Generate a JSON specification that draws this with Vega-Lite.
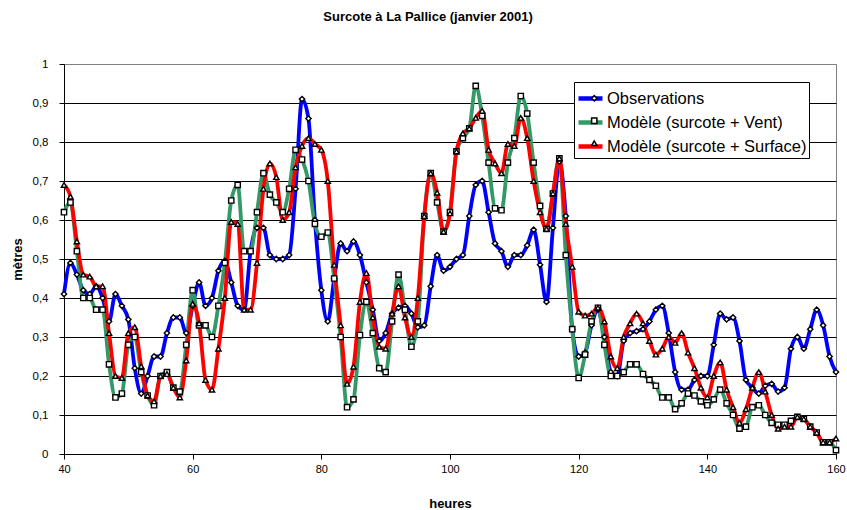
{
  "$schema": "https://vega.github.io/schema/vega-lite/v6.json",
  "width": 772,
  "height": 390,
  "autosize": {"type": "none"},
  "padding": {"left": 64, "top": 64, "right": 11, "bottom": 56},
  "background": "white",
  "title": {"text": "Surcote à La Pallice (janvier 2001)", "font": "Liberation Sans", "fontSize": 13, "fontWeight": "bold", "color": "black", "anchor": "middle", "frame": "bounds", "offset": 34},
  "config": {"view": {"stroke": "#808080", "strokeWidth": 1}, "font": "Liberation Sans"},
  "data": {"values": [
{"h":40,"s":"Observations","v":0.41},{"h":41,"s":"Observations","v":0.49},{"h":42,"s":"Observations","v":0.46},{"h":43,"s":"Observations","v":0.42},{"h":44,"s":"Observations","v":0.41},{"h":45,"s":"Observations","v":0.43},{"h":46,"s":"Observations","v":0.40},{"h":47,"s":"Observations","v":0.34},{"h":48,"s":"Observations","v":0.41},{"h":49,"s":"Observations","v":0.38},
{"h":50,"s":"Observations","v":0.345},{"h":51,"s":"Observations","v":0.22},{"h":52,"s":"Observations","v":0.155},{"h":53,"s":"Observations","v":0.20},{"h":54,"s":"Observations","v":0.25},{"h":55,"s":"Observations","v":0.25},{"h":56,"s":"Observations","v":0.31},{"h":57,"s":"Observations","v":0.35},{"h":58,"s":"Observations","v":0.35},{"h":59,"s":"Observations","v":0.31},
{"h":60,"s":"Observations","v":0.38},{"h":61,"s":"Observations","v":0.44},{"h":62,"s":"Observations","v":0.38},{"h":63,"s":"Observations","v":0.40},{"h":64,"s":"Observations","v":0.47},{"h":65,"s":"Observations","v":0.495},{"h":66,"s":"Observations","v":0.44},{"h":67,"s":"Observations","v":0.38},{"h":68,"s":"Observations","v":0.37},{"h":69,"s":"Observations","v":0.52},
{"h":70,"s":"Observations","v":0.58},{"h":71,"s":"Observations","v":0.58},{"h":72,"s":"Observations","v":0.51},{"h":73,"s":"Observations","v":0.50},{"h":74,"s":"Observations","v":0.50},{"h":75,"s":"Observations","v":0.51},{"h":76,"s":"Observations","v":0.68},{"h":77,"s":"Observations","v":0.91},{"h":78,"s":"Observations","v":0.86},{"h":79,"s":"Observations","v":0.60},
{"h":80,"s":"Observations","v":0.42},{"h":81,"s":"Observations","v":0.34},{"h":82,"s":"Observations","v":0.45},{"h":83,"s":"Observations","v":0.54},{"h":84,"s":"Observations","v":0.52},{"h":85,"s":"Observations","v":0.545},{"h":86,"s":"Observations","v":0.51},{"h":87,"s":"Observations","v":0.44},{"h":88,"s":"Observations","v":0.37},{"h":89,"s":"Observations","v":0.29},
{"h":90,"s":"Observations","v":0.31},{"h":91,"s":"Observations","v":0.36},{"h":92,"s":"Observations","v":0.375},{"h":93,"s":"Observations","v":0.38},{"h":94,"s":"Observations","v":0.36},{"h":95,"s":"Observations","v":0.325},{"h":96,"s":"Observations","v":0.33},{"h":97,"s":"Observations","v":0.43},{"h":98,"s":"Observations","v":0.51},{"h":99,"s":"Observations","v":0.47},
{"h":100,"s":"Observations","v":0.48},{"h":101,"s":"Observations","v":0.50},{"h":102,"s":"Observations","v":0.51},{"h":103,"s":"Observations","v":0.61},{"h":104,"s":"Observations","v":0.69},{"h":105,"s":"Observations","v":0.70},{"h":106,"s":"Observations","v":0.62},{"h":107,"s":"Observations","v":0.54},{"h":108,"s":"Observations","v":0.52},{"h":109,"s":"Observations","v":0.48},
{"h":110,"s":"Observations","v":0.51},{"h":111,"s":"Observations","v":0.51},{"h":112,"s":"Observations","v":0.535},{"h":113,"s":"Observations","v":0.575},{"h":114,"s":"Observations","v":0.485},{"h":115,"s":"Observations","v":0.39},{"h":116,"s":"Observations","v":0.58},{"h":117,"s":"Observations","v":0.75},{"h":118,"s":"Observations","v":0.61},{"h":119,"s":"Observations","v":0.32},
{"h":120,"s":"Observations","v":0.25},{"h":121,"s":"Observations","v":0.26},{"h":122,"s":"Observations","v":0.33},{"h":123,"s":"Observations","v":0.37},{"h":124,"s":"Observations","v":0.30},{"h":125,"s":"Observations","v":0.21},{"h":126,"s":"Observations","v":0.20},{"h":127,"s":"Observations","v":0.29},{"h":128,"s":"Observations","v":0.31},{"h":129,"s":"Observations","v":0.315},
{"h":130,"s":"Observations","v":0.32},{"h":131,"s":"Observations","v":0.34},{"h":132,"s":"Observations","v":0.37},{"h":133,"s":"Observations","v":0.38},{"h":134,"s":"Observations","v":0.31},{"h":135,"s":"Observations","v":0.21},{"h":136,"s":"Observations","v":0.165},{"h":137,"s":"Observations","v":0.165},{"h":138,"s":"Observations","v":0.19},{"h":139,"s":"Observations","v":0.20},
{"h":140,"s":"Observations","v":0.20},{"h":141,"s":"Observations","v":0.28},{"h":142,"s":"Observations","v":0.36},{"h":143,"s":"Observations","v":0.345},{"h":144,"s":"Observations","v":0.35},{"h":145,"s":"Observations","v":0.29},{"h":146,"s":"Observations","v":0.19},{"h":147,"s":"Observations","v":0.17},{"h":148,"s":"Observations","v":0.155},{"h":149,"s":"Observations","v":0.175},
{"h":150,"s":"Observations","v":0.18},{"h":151,"s":"Observations","v":0.16},{"h":152,"s":"Observations","v":0.17},{"h":153,"s":"Observations","v":0.27},{"h":154,"s":"Observations","v":0.30},{"h":155,"s":"Observations","v":0.27},{"h":156,"s":"Observations","v":0.32},{"h":157,"s":"Observations","v":0.37},{"h":158,"s":"Observations","v":0.33},{"h":159,"s":"Observations","v":0.25},
{"h":160,"s":"Observations","v":0.21},
{"h":40,"s":"Modèle (surcote + Vent)","v":0.62},{"h":41,"s":"Modèle (surcote + Vent)","v":0.645},{"h":42,"s":"Modèle (surcote + Vent)","v":0.52},{"h":43,"s":"Modèle (surcote + Vent)","v":0.40},{"h":44,"s":"Modèle (surcote + Vent)","v":0.40},{"h":45,"s":"Modèle (surcote + Vent)","v":0.37},{"h":46,"s":"Modèle (surcote + Vent)","v":0.37},{"h":47,"s":"Modèle (surcote + Vent)","v":0.23},{"h":48,"s":"Modèle (surcote + Vent)","v":0.145},{"h":49,"s":"Modèle (surcote + Vent)","v":0.155},
{"h":50,"s":"Modèle (surcote + Vent)","v":0.28},{"h":51,"s":"Modèle (surcote + Vent)","v":0.30},{"h":52,"s":"Modèle (surcote + Vent)","v":0.21},{"h":53,"s":"Modèle (surcote + Vent)","v":0.15},{"h":54,"s":"Modèle (surcote + Vent)","v":0.125},{"h":55,"s":"Modèle (surcote + Vent)","v":0.20},{"h":56,"s":"Modèle (surcote + Vent)","v":0.21},{"h":57,"s":"Modèle (surcote + Vent)","v":0.17},{"h":58,"s":"Modèle (surcote + Vent)","v":0.16},{"h":59,"s":"Modèle (surcote + Vent)","v":0.28},
{"h":60,"s":"Modèle (surcote + Vent)","v":0.42},{"h":61,"s":"Modèle (surcote + Vent)","v":0.33},{"h":62,"s":"Modèle (surcote + Vent)","v":0.33},{"h":63,"s":"Modèle (surcote + Vent)","v":0.30},{"h":64,"s":"Modèle (surcote + Vent)","v":0.38},{"h":65,"s":"Modèle (surcote + Vent)","v":0.49},{"h":66,"s":"Modèle (surcote + Vent)","v":0.65},{"h":67,"s":"Modèle (surcote + Vent)","v":0.69},{"h":68,"s":"Modèle (surcote + Vent)","v":0.52},{"h":69,"s":"Modèle (surcote + Vent)","v":0.52},
{"h":70,"s":"Modèle (surcote + Vent)","v":0.62},{"h":71,"s":"Modèle (surcote + Vent)","v":0.72},{"h":72,"s":"Modèle (surcote + Vent)","v":0.665},{"h":73,"s":"Modèle (surcote + Vent)","v":0.645},{"h":74,"s":"Modèle (surcote + Vent)","v":0.62},{"h":75,"s":"Modèle (surcote + Vent)","v":0.68},{"h":76,"s":"Modèle (surcote + Vent)","v":0.78},{"h":77,"s":"Modèle (surcote + Vent)","v":0.755},{"h":78,"s":"Modèle (surcote + Vent)","v":0.70},{"h":79,"s":"Modèle (surcote + Vent)","v":0.59},
{"h":80,"s":"Modèle (surcote + Vent)","v":0.557},{"h":81,"s":"Modèle (surcote + Vent)","v":0.568},{"h":82,"s":"Modèle (surcote + Vent)","v":0.45},{"h":83,"s":"Modèle (surcote + Vent)","v":0.30},{"h":84,"s":"Modèle (surcote + Vent)","v":0.12},{"h":85,"s":"Modèle (surcote + Vent)","v":0.14},{"h":86,"s":"Modèle (surcote + Vent)","v":0.305},{"h":87,"s":"Modèle (surcote + Vent)","v":0.39},{"h":88,"s":"Modèle (surcote + Vent)","v":0.31},{"h":89,"s":"Modèle (surcote + Vent)","v":0.22},
{"h":90,"s":"Modèle (surcote + Vent)","v":0.21},{"h":91,"s":"Modèle (surcote + Vent)","v":0.34},{"h":92,"s":"Modèle (surcote + Vent)","v":0.46},{"h":93,"s":"Modèle (surcote + Vent)","v":0.37},{"h":94,"s":"Modèle (surcote + Vent)","v":0.275},{"h":95,"s":"Modèle (surcote + Vent)","v":0.34},{"h":96,"s":"Modèle (surcote + Vent)","v":0.61},{"h":97,"s":"Modèle (surcote + Vent)","v":0.72},{"h":98,"s":"Modèle (surcote + Vent)","v":0.645},{"h":99,"s":"Modèle (surcote + Vent)","v":0.57},
{"h":100,"s":"Modèle (surcote + Vent)","v":0.62},{"h":101,"s":"Modèle (surcote + Vent)","v":0.776},{"h":102,"s":"Modèle (surcote + Vent)","v":0.81},{"h":103,"s":"Modèle (surcote + Vent)","v":0.835},{"h":104,"s":"Modèle (surcote + Vent)","v":0.944},{"h":105,"s":"Modèle (surcote + Vent)","v":0.867},{"h":106,"s":"Modèle (surcote + Vent)","v":0.747},{"h":107,"s":"Modèle (surcote + Vent)","v":0.63},{"h":108,"s":"Modèle (surcote + Vent)","v":0.625},{"h":109,"s":"Modèle (surcote + Vent)","v":0.747},
{"h":110,"s":"Modèle (surcote + Vent)","v":0.81},{"h":111,"s":"Modèle (surcote + Vent)","v":0.918},{"h":112,"s":"Modèle (surcote + Vent)","v":0.873},{"h":113,"s":"Modèle (surcote + Vent)","v":0.747},{"h":114,"s":"Modèle (surcote + Vent)","v":0.636},{"h":115,"s":"Modèle (surcote + Vent)","v":0.577},{"h":116,"s":"Modèle (surcote + Vent)","v":0.668},{"h":117,"s":"Modèle (surcote + Vent)","v":0.758},{"h":118,"s":"Modèle (surcote + Vent)","v":0.51},{"h":119,"s":"Modèle (surcote + Vent)","v":0.32},
{"h":120,"s":"Modèle (surcote + Vent)","v":0.195},{"h":121,"s":"Modèle (surcote + Vent)","v":0.255},{"h":122,"s":"Modèle (surcote + Vent)","v":0.34},{"h":123,"s":"Modèle (surcote + Vent)","v":0.375},{"h":124,"s":"Modèle (surcote + Vent)","v":0.28},{"h":125,"s":"Modèle (surcote + Vent)","v":0.20},{"h":126,"s":"Modèle (surcote + Vent)","v":0.20},{"h":127,"s":"Modèle (surcote + Vent)","v":0.21},{"h":128,"s":"Modèle (surcote + Vent)","v":0.23},{"h":129,"s":"Modèle (surcote + Vent)","v":0.23},
{"h":130,"s":"Modèle (surcote + Vent)","v":0.205},{"h":131,"s":"Modèle (surcote + Vent)","v":0.19},{"h":132,"s":"Modèle (surcote + Vent)","v":0.175},{"h":133,"s":"Modèle (surcote + Vent)","v":0.145},{"h":134,"s":"Modèle (surcote + Vent)","v":0.145},{"h":135,"s":"Modèle (surcote + Vent)","v":0.115},{"h":136,"s":"Modèle (surcote + Vent)","v":0.13},{"h":137,"s":"Modèle (surcote + Vent)","v":0.155},{"h":138,"s":"Modèle (surcote + Vent)","v":0.15},{"h":139,"s":"Modèle (surcote + Vent)","v":0.135},
{"h":140,"s":"Modèle (surcote + Vent)","v":0.125},{"h":141,"s":"Modèle (surcote + Vent)","v":0.14},{"h":142,"s":"Modèle (surcote + Vent)","v":0.165},{"h":143,"s":"Modèle (surcote + Vent)","v":0.13},{"h":144,"s":"Modèle (surcote + Vent)","v":0.10},{"h":145,"s":"Modèle (surcote + Vent)","v":0.065},{"h":146,"s":"Modèle (surcote + Vent)","v":0.07},{"h":147,"s":"Modèle (surcote + Vent)","v":0.12},{"h":148,"s":"Modèle (surcote + Vent)","v":0.125},{"h":149,"s":"Modèle (surcote + Vent)","v":0.10},
{"h":150,"s":"Modèle (surcote + Vent)","v":0.08},{"h":151,"s":"Modèle (surcote + Vent)","v":0.075},{"h":152,"s":"Modèle (surcote + Vent)","v":0.075},{"h":153,"s":"Modèle (surcote + Vent)","v":0.085},{"h":154,"s":"Modèle (surcote + Vent)","v":0.095},{"h":155,"s":"Modèle (surcote + Vent)","v":0.09},{"h":156,"s":"Modèle (surcote + Vent)","v":0.07},{"h":157,"s":"Modèle (surcote + Vent)","v":0.055},{"h":158,"s":"Modèle (surcote + Vent)","v":0.03},{"h":159,"s":"Modèle (surcote + Vent)","v":0.03},
{"h":160,"s":"Modèle (surcote + Vent)","v":0.01},
{"h":40,"s":"Modèle (surcote + Surface)","v":0.69},{"h":41,"s":"Modèle (surcote + Surface)","v":0.66},{"h":42,"s":"Modèle (surcote + Surface)","v":0.545},{"h":43,"s":"Modèle (surcote + Surface)","v":0.46},{"h":44,"s":"Modèle (surcote + Surface)","v":0.455},{"h":45,"s":"Modèle (surcote + Surface)","v":0.43},{"h":46,"s":"Modèle (surcote + Surface)","v":0.43},{"h":47,"s":"Modèle (surcote + Surface)","v":0.31},{"h":48,"s":"Modèle (surcote + Surface)","v":0.20},{"h":49,"s":"Modèle (surcote + Surface)","v":0.195},
{"h":50,"s":"Modèle (surcote + Surface)","v":0.31},{"h":51,"s":"Modèle (surcote + Surface)","v":0.325},{"h":52,"s":"Modèle (surcote + Surface)","v":0.225},{"h":53,"s":"Modèle (surcote + Surface)","v":0.15},{"h":54,"s":"Modèle (surcote + Surface)","v":0.135},{"h":55,"s":"Modèle (surcote + Surface)","v":0.20},{"h":56,"s":"Modèle (surcote + Surface)","v":0.205},{"h":57,"s":"Modèle (surcote + Surface)","v":0.17},{"h":58,"s":"Modèle (surcote + Surface)","v":0.145},{"h":59,"s":"Modèle (surcote + Surface)","v":0.24},
{"h":60,"s":"Modèle (surcote + Surface)","v":0.385},{"h":61,"s":"Modèle (surcote + Surface)","v":0.335},{"h":62,"s":"Modèle (surcote + Surface)","v":0.19},{"h":63,"s":"Modèle (surcote + Surface)","v":0.165},{"h":64,"s":"Modèle (surcote + Surface)","v":0.27},{"h":65,"s":"Modèle (surcote + Surface)","v":0.40},{"h":66,"s":"Modèle (surcote + Surface)","v":0.595},{"h":67,"s":"Modèle (surcote + Surface)","v":0.59},{"h":68,"s":"Modèle (surcote + Surface)","v":0.37},{"h":69,"s":"Modèle (surcote + Surface)","v":0.37},
{"h":70,"s":"Modèle (surcote + Surface)","v":0.49},{"h":71,"s":"Modèle (surcote + Surface)","v":0.68},{"h":72,"s":"Modèle (surcote + Surface)","v":0.745},{"h":73,"s":"Modèle (surcote + Surface)","v":0.71},{"h":74,"s":"Modèle (surcote + Surface)","v":0.60},{"h":75,"s":"Modèle (surcote + Surface)","v":0.62},{"h":76,"s":"Modèle (surcote + Surface)","v":0.735},{"h":77,"s":"Modèle (surcote + Surface)","v":0.79},{"h":78,"s":"Modèle (surcote + Surface)","v":0.81},{"h":79,"s":"Modèle (surcote + Surface)","v":0.795},
{"h":80,"s":"Modèle (surcote + Surface)","v":0.78},{"h":81,"s":"Modèle (surcote + Surface)","v":0.70},{"h":82,"s":"Modèle (surcote + Surface)","v":0.485},{"h":83,"s":"Modèle (surcote + Surface)","v":0.33},{"h":84,"s":"Modèle (surcote + Surface)","v":0.18},{"h":85,"s":"Modèle (surcote + Surface)","v":0.224},{"h":86,"s":"Modèle (surcote + Surface)","v":0.39},{"h":87,"s":"Modèle (surcote + Surface)","v":0.464},{"h":88,"s":"Modèle (surcote + Surface)","v":0.35},{"h":89,"s":"Modèle (surcote + Surface)","v":0.275},
{"h":90,"s":"Modèle (surcote + Surface)","v":0.27},{"h":91,"s":"Modèle (surcote + Surface)","v":0.36},{"h":92,"s":"Modèle (surcote + Surface)","v":0.43},{"h":93,"s":"Modèle (surcote + Surface)","v":0.35},{"h":94,"s":"Modèle (surcote + Surface)","v":0.30},{"h":95,"s":"Modèle (surcote + Surface)","v":0.40},{"h":96,"s":"Modèle (surcote + Surface)","v":0.61},{"h":97,"s":"Modèle (surcote + Surface)","v":0.72},{"h":98,"s":"Modèle (surcote + Surface)","v":0.67},{"h":99,"s":"Modèle (surcote + Surface)","v":0.57},
{"h":100,"s":"Modèle (surcote + Surface)","v":0.617},{"h":101,"s":"Modèle (surcote + Surface)","v":0.776},{"h":102,"s":"Modèle (surcote + Surface)","v":0.822},{"h":103,"s":"Modèle (surcote + Surface)","v":0.835},{"h":104,"s":"Modèle (surcote + Surface)","v":0.862},{"h":105,"s":"Modèle (surcote + Surface)","v":0.88},{"h":106,"s":"Modèle (surcote + Surface)","v":0.78},{"h":107,"s":"Modèle (surcote + Surface)","v":0.745},{"h":108,"s":"Modèle (surcote + Surface)","v":0.72},{"h":109,"s":"Modèle (surcote + Surface)","v":0.795},
{"h":110,"s":"Modèle (surcote + Surface)","v":0.79},{"h":111,"s":"Modèle (surcote + Surface)","v":0.862},{"h":112,"s":"Modèle (surcote + Surface)","v":0.81},{"h":113,"s":"Modèle (surcote + Surface)","v":0.70},{"h":114,"s":"Modèle (surcote + Surface)","v":0.62},{"h":115,"s":"Modèle (surcote + Surface)","v":0.577},{"h":116,"s":"Modèle (surcote + Surface)","v":0.668},{"h":117,"s":"Modèle (surcote + Surface)","v":0.758},{"h":118,"s":"Modèle (surcote + Surface)","v":0.59},{"h":119,"s":"Modèle (surcote + Surface)","v":0.48},
{"h":120,"s":"Modèle (surcote + Surface)","v":0.365},{"h":121,"s":"Modèle (surcote + Surface)","v":0.355},{"h":122,"s":"Modèle (surcote + Surface)","v":0.36},{"h":123,"s":"Modèle (surcote + Surface)","v":0.375},{"h":124,"s":"Modèle (surcote + Surface)","v":0.34},{"h":125,"s":"Modèle (surcote + Surface)","v":0.25},{"h":126,"s":"Modèle (surcote + Surface)","v":0.22},{"h":127,"s":"Modèle (surcote + Surface)","v":0.30},{"h":128,"s":"Modèle (surcote + Surface)","v":0.335},{"h":129,"s":"Modèle (surcote + Surface)","v":0.36},
{"h":130,"s":"Modèle (surcote + Surface)","v":0.335},{"h":131,"s":"Modèle (surcote + Surface)","v":0.29},{"h":132,"s":"Modèle (surcote + Surface)","v":0.255},{"h":133,"s":"Modèle (surcote + Surface)","v":0.27},{"h":134,"s":"Modèle (surcote + Surface)","v":0.30},{"h":135,"s":"Modèle (surcote + Surface)","v":0.285},{"h":136,"s":"Modèle (surcote + Surface)","v":0.31},{"h":137,"s":"Modèle (surcote + Surface)","v":0.26},{"h":138,"s":"Modèle (surcote + Surface)","v":0.22},{"h":139,"s":"Modèle (surcote + Surface)","v":0.17},
{"h":140,"s":"Modèle (surcote + Surface)","v":0.145},{"h":141,"s":"Modèle (surcote + Surface)","v":0.20},{"h":142,"s":"Modèle (surcote + Surface)","v":0.235},{"h":143,"s":"Modèle (surcote + Surface)","v":0.165},{"h":144,"s":"Modèle (surcote + Surface)","v":0.12},{"h":145,"s":"Modèle (surcote + Surface)","v":0.08},{"h":146,"s":"Modèle (surcote + Surface)","v":0.115},{"h":147,"s":"Modèle (surcote + Surface)","v":0.17},{"h":148,"s":"Modèle (surcote + Surface)","v":0.21},{"h":149,"s":"Modèle (surcote + Surface)","v":0.16},
{"h":150,"s":"Modèle (surcote + Surface)","v":0.10},{"h":151,"s":"Modèle (surcote + Surface)","v":0.065},{"h":152,"s":"Modèle (surcote + Surface)","v":0.07},{"h":153,"s":"Modèle (surcote + Surface)","v":0.07},{"h":154,"s":"Modèle (surcote + Surface)","v":0.095},{"h":155,"s":"Modèle (surcote + Surface)","v":0.09},{"h":156,"s":"Modèle (surcote + Surface)","v":0.07},{"h":157,"s":"Modèle (surcote + Surface)","v":0.055},{"h":158,"s":"Modèle (surcote + Surface)","v":0.03},{"h":159,"s":"Modèle (surcote + Surface)","v":0.03},
{"h":160,"s":"Modèle (surcote + Surface)","v":0.04}
  ]},
  "encoding": {
    "x": {"field": "h", "type": "quantitative", "scale": {"domain": [40, 160], "nice": false, "zero": false},
      "axis": {"values": [40, 60, 80, 100, 120, 140, 160], "title": "heures", "titleFont": "Liberation Sans", "titleFontSize": 13, "titleFontWeight": "bold", "titleColor": "black", "titlePadding": 23, "labelFont": "Liberation Sans", "labelFontSize": 11, "labelColor": "black", "labelPadding": 4, "labelFlush": false, "tickSize": 5, "tickColor": "black", "domainColor": "black", "grid": false}},
    "y": {"field": "v", "type": "quantitative", "scale": {"domain": [0, 1], "nice": false},
      "axis": {"values": [0, 0.1, 0.2, 0.3, 0.4, 0.5, 0.6, 0.7, 0.8, 0.9, 1], "labelExpr": "replace(format(datum.value, '.1~f'), '.', ',')", "grid": true, "gridColor": {"condition": {"test": "datum.value === 1", "value": "#808080"}, "value": "black"}, "gridWidth": 1, "gridOpacity": 1, "title": "mètres", "titleFont": "Liberation Sans", "titleFontSize": 13, "titleFontWeight": "bold", "titleColor": "black", "titlePadding": 8, "labelFont": "Liberation Sans", "labelFontSize": 11.5, "labelColor": "black", "labelPadding": 11, "labelFlush": false, "tickSize": 5, "tickColor": "black", "domainColor": "black"}}
  },
  "layer": [
    {"mark": {"type": "line", "strokeWidth": 3.8, "interpolate": "monotone"},
     "encoding": {"color": {"field": "s", "type": "nominal", "sort": null,
        "scale": {"domain": ["Observations", "Modèle (surcote + Vent)", "Modèle (surcote + Surface)"], "range": ["#0000FF", "#339966", "#FF0000"]},
        "legend": {"orient": "none", "legendX": 510, "legendY": 18, "title": null, "symbolType": "stroke", "symbolSize": 576, "symbolStrokeWidth": 4.5, "labelFont": "Liberation Sans", "labelFontSize": 16.5, "labelColor": "black", "labelOffset": 2, "labelLimit": 400, "strokeColor": "black", "fillColor": "white", "padding": 2, "rowPadding": 0, "zindex": 1}}}},
    {"mark": {"type": "point", "filled": true, "fill": "white", "stroke": "black", "strokeWidth": 1.4, "size": 28, "opacity": 1},
     "encoding": {"shape": {"field": "s", "type": "nominal", "sort": null,
        "scale": {"range": ["diamond", "square", "triangle-up"]},
        "legend": {"orient": "none", "legendX": 520, "legendY": 24, "title": null, "symbolSize": 28, "labelExpr": "''", "labelFont": "Liberation Sans", "labelFontSize": 16.5, "labelLimit": 400, "padding": 2, "rowPadding": 5.5, "zindex": 2,
          "encode": {"symbols": {"update": {"fill": {"value": "white"}, "stroke": {"value": "black"}, "strokeWidth": {"value": 1.4}, "opacity": {"value": 1}}}}}}}}
  ]
}
